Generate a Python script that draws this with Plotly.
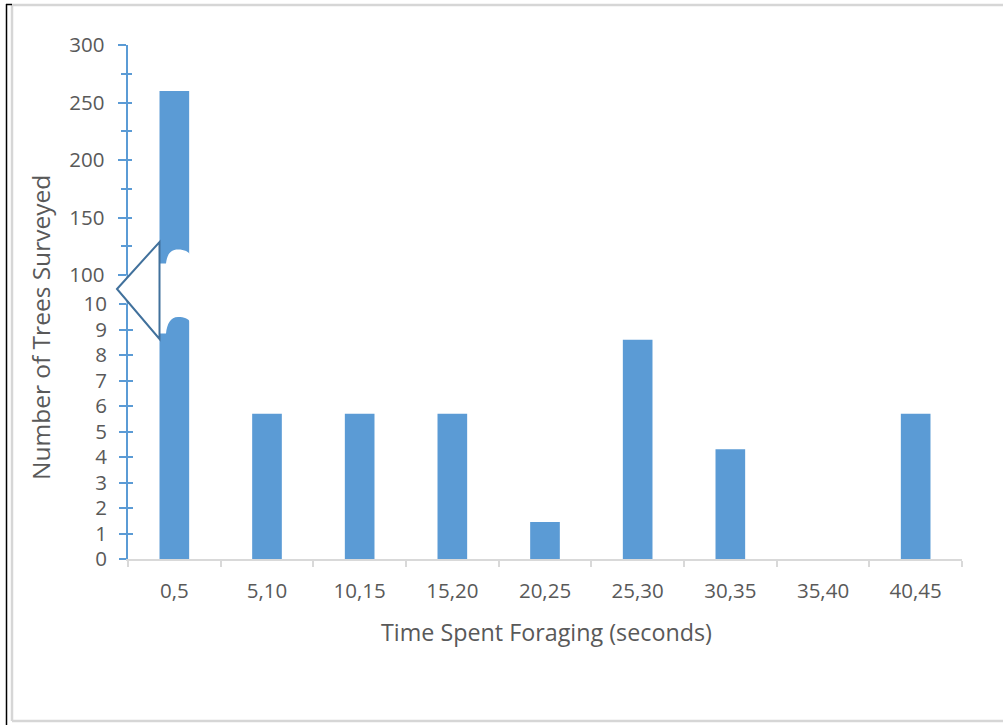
import plotly.graph_objects as go

# Canvas size in pixels
W, H = 1003, 725

# Data: foraging-time bins and tree counts (first bin sits on the broken upper scale)
categories = ["0,5", "5,10", "10,15", "15,20", "20,25", "25,30", "30,35", "35,40", "40,45"]
trees = [260, 5.7, 5.7, 5.7, 1.45, 8.6, 4.3, 0, 5.7]

# Axis tick positions for the two halves of the broken y axis
lower_ticks = list(range(0, 11))
upper_ticks = [100, 150, 200, 250, 300]
upper_minor = [125, 175, 225, 275]

BAR_BLUE = "#5B9BD5"
AXIS_BLUE = "#5B9BD5"
TEXT_GRAY = "#595959"
LINE_GRAY = "#D9D9D9"
FRAME_GRAY = "#D6D6D6"
BREAK_EDGE = "#41719C"
FONT = "Open Sans"

# Layout geometry (pixels)
X0, X1 = 128, 962           # plot area left/right
LOW_BOT, LOW_TOP = 559, 304  # lower panel (0..10)
UP_BOT, UP_TOP = 275, 45     # upper panel (100..300)
UP_AXIS_X = 126.5
BAR_W = 0.32


def px(x):
    return x / W


def py(y):
    return 1 - y / H


fig = go.Figure()

# Same bars drawn against each half of the broken axis; each subplot clips its own range
fig.add_bar(x=categories, y=trees, xaxis="x", yaxis="y", width=BAR_W,
            marker=dict(color=BAR_BLUE, line=dict(width=0)), hoverinfo="skip")
fig.add_bar(x=categories, y=trees, xaxis="x", yaxis="y2", width=BAR_W,
            marker=dict(color=BAR_BLUE, line=dict(width=0)), hoverinfo="skip")
# Empty traces so the overlay axes (inner half of the crossing ticks) get drawn
fig.add_scatter(x=[], y=[], xaxis="x", yaxis="y3", showlegend=False)
fig.add_scatter(x=[], y=[], xaxis="x", yaxis="y4", showlegend=False)

tickfont = dict(family=FONT, size=20.5, color=TEXT_GRAY)

fig.update_layout(
    width=W, height=H,
    margin=dict(l=0, r=0, t=0, b=0, autoexpand=False),
    paper_bgcolor="white", plot_bgcolor="rgba(0,0,0,0)",
    showlegend=False, barmode="overlay",
    xaxis=dict(
        domain=[px(X0), px(X1)], anchor="y", type="category",
        range=[-0.5, len(categories) - 0.5], automargin=False,
        showline=True, linecolor=LINE_GRAY, linewidth=2,
        ticks="outside", tickson="boundaries", ticklen=6, tickwidth=2, tickcolor=LINE_GRAY,
        tickfont=tickfont, showgrid=False, ticklabelstandoff=12,
    ),
    yaxis=dict(
        domain=[py(LOW_BOT), py(LOW_TOP)], anchor="x", range=[0, 10], automargin=False,
        tickmode="array", tickvals=lower_ticks, ticktext=[str(v) for v in lower_ticks],
        showline=True, linecolor=AXIS_BLUE, linewidth=2,
        ticks="outside", ticklen=7, tickwidth=2, tickcolor=AXIS_BLUE,
        tickfont=tickfont, showgrid=False, zeroline=False, ticklabelstandoff=8,
    ),
    yaxis2=dict(
        domain=[py(UP_BOT), py(UP_TOP)], anchor="free", position=px(UP_AXIS_X),
        range=[100, 300], automargin=False,
        tickmode="array", tickvals=upper_ticks, ticktext=[str(v) for v in upper_ticks],
        showline=True, linecolor=AXIS_BLUE, linewidth=2,
        ticks="outside", ticklen=8, tickwidth=2, tickcolor=AXIS_BLUE,
        minor=dict(tickmode="array", tickvals=upper_minor, ticks="outside",
                   ticklen=5, tickwidth=2, tickcolor=AXIS_BLUE, showgrid=False),
        tickfont=tickfont, showgrid=False, zeroline=False, ticklabelstandoff=9,
    ),
    yaxis3=dict(
        overlaying="y", anchor="x", range=[0, 10], automargin=False,
        tickmode="array", tickvals=lower_ticks,
        ticks="inside", ticklen=5, tickwidth=2, tickcolor=AXIS_BLUE,
        showticklabels=False, showline=False, showgrid=False, zeroline=False,
    ),
    yaxis4=dict(
        overlaying="y2", anchor="free", position=px(UP_AXIS_X), range=[100, 300],
        automargin=False,
        tickmode="array", tickvals=upper_ticks,
        ticks="inside", ticklen=4.5, tickwidth=2, tickcolor=AXIS_BLUE,
        minor=dict(tickmode="array", tickvals=upper_minor, ticks="inside",
                   ticklen=4.5, tickwidth=2, tickcolor=AXIS_BLUE, showgrid=False),
        showticklabels=False, showline=False, showgrid=False, zeroline=False,
    ),
)

# Axis titles
fig.add_annotation(text="Time Spent Foraging (seconds)", xref="paper", yref="paper",
                   x=px((X0 + X1) / 2 + 1), y=py(632), showarrow=False,
                   xanchor="center", yanchor="middle",
                   font=dict(family=FONT, size=23.3, color=TEXT_GRAY))
fig.add_annotation(text="Number of Trees Surveyed", xref="paper", yref="paper",
                   x=px(41), y=py(328), showarrow=False, textangle=-90,
                   xanchor="center", yanchor="middle",
                   font=dict(family=FONT, size=24.5, color=TEXT_GRAY))

shapes = []

# Outer frame: top, left and bottom edges (the right edge runs past the canvas)
for x0, y0, x1, y1 in [(12, 5, W + 5, 5), (12, 5, 12, 721), (12, 721, W + 5, 721)]:
    shapes.append(dict(type="line", xref="paper", yref="paper",
                       x0=px(x0), y0=py(y0), x1=px(x1), y1=py(y1),
                       line=dict(color=FRAME_GRAY, width=2.5), layer="below"))
shapes.append(dict(type="line", xref="paper", yref="paper",
                   x0=px(6.5), x1=px(6.5), y0=py(4), y1=py(H + 2),
                   line=dict(color="black", width=1.5)))
shapes.append(dict(type="line", xref="paper", yref="paper",
                   x0=px(6), x1=px(12), y0=py(4.5), y1=py(4.5),
                   line=dict(color="black", width=1.5)))

# Axis line bridging the gap between the two panels
shapes.append(dict(type="line", xref="paper", yref="paper",
                   x0=px(127.5), x1=px(127.5), y0=py(LOW_TOP), y1=py(UP_BOT),
                   line=dict(color=AXIS_BLUE, width=2)))

# Wavy break across the first (tall) bar
step = (X1 - X0) / len(categories)
bl = X0 + (0.5 - BAR_W / 2) * step
br = X0 + (0.5 + BAR_W / 2) * step


def P(x, y):
    return f"{px(x):.5f},{py(y):.5f}"


wave = (
    f"M {P(bl - 1, 263.5)} L {P(bl + 6.5, 263.5)} "
    f"C {P(bl + 7.5, 255)} {P(bl + 10.5, 249.5)} {P(bl + 18.5, 249.5)} "
    f"C {P(bl + 25, 249.5)} {P(br, 252)} {P(br + 1, 255)} "
    f"L {P(br + 1, 322)} "
    f"C {P(br - 1, 318.5)} {P(bl + 25, 317)} {P(bl + 18.5, 317)} "
    f"C {P(bl + 11, 317)} {P(bl + 7.5, 324)} {P(bl + 6.5, 333.5)} "
    f"L {P(bl - 1, 333.5)} Z"
)
shapes.append(dict(type="path", xref="paper", yref="paper", path=wave,
                   fillcolor="white", line=dict(width=0), layer="above"))

# Break marker on the y axis
tri = f"M {P(117, 289)} L {P(bl, 242)} L {P(bl, 339)} Z"
shapes.append(dict(type="path", xref="paper", yref="paper", path=tri,
                   fillcolor="white", line=dict(color=BREAK_EDGE, width=2), layer="above"))

fig.update_layout(shapes=shapes)

fig.write_html("out.html")
